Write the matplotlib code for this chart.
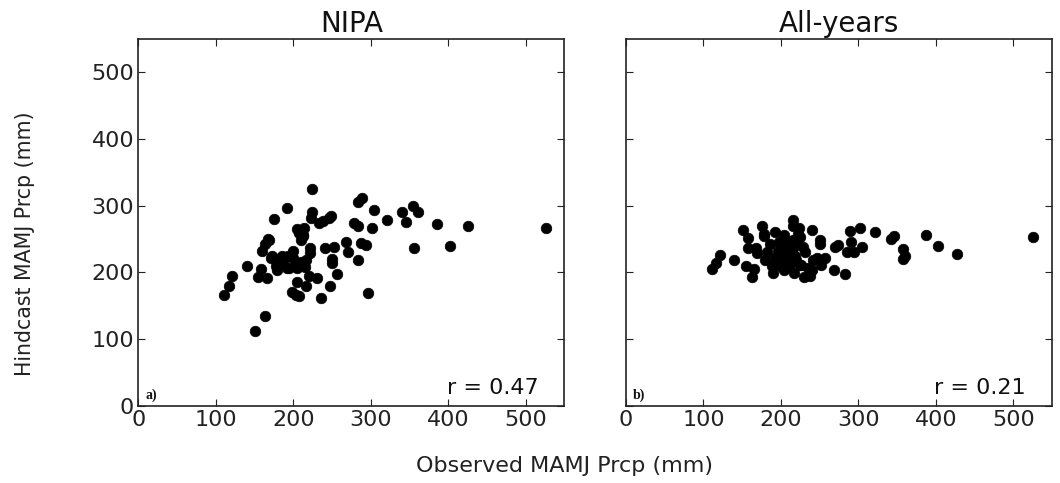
import matplotlib
matplotlib.use("Agg")
import matplotlib.pyplot as plt

# ---- data ----
nipa_obs = [110, 117, 121, 140, 151, 163, 155, 158, 166, 160, 164, 168, 171, 175, 179, 186,
            192, 182, 192, 199, 205, 208, 210, 205, 198, 203, 208, 216, 220, 224, 224, 223,
            214, 222, 222, 216, 212, 203, 233, 238, 246, 249, 284, 289, 304, 278, 283, 302,
            321, 340, 345, 355, 361, 386, 425, 526, 356, 402, 296, 268, 271, 288, 294, 283,
            257, 250, 250, 241, 252, 248, 236, 231, 212, 193, 194, 205, 210, 215, 180, 188,
            173, 169, 212, 200, 178]
nipa_hind = [166, 179, 195, 209, 112, 134, 193, 205, 191, 232, 243, 250, 222, 280, 204, 224,
             297, 212, 206, 232, 265, 259, 249, 186, 170, 166, 164, 179, 194, 325, 291, 282,
             266, 236, 229, 219, 211, 213, 274, 277, 281, 284, 306, 312, 293, 274, 270, 266,
             279, 291, 275, 299, 291, 273, 270, 266, 236, 239, 169, 246, 231, 244, 241, 219,
             198, 220, 214, 236, 238, 179, 161, 191, 254, 224, 206, 207, 215, 208, 218, 220,
             225, 249, 256, 222, 210]

all_obs = [111, 116, 121, 140, 151, 157, 157, 155, 165, 163, 169, 175, 178, 192, 182, 190,
           215, 216, 240, 231, 251, 251, 225, 235, 230, 237, 242, 247, 257, 252, 268, 283,
           270, 274, 285, 294, 290, 305, 289, 302, 322, 342, 346, 358, 360, 358, 387, 403,
           427, 526, 178, 204, 223, 210, 216, 225, 206, 215, 200, 207, 213, 168, 180, 193,
           189, 202, 210, 219, 226, 217, 204, 240, 208, 212, 220, 198, 218, 222, 196, 186,
           214, 228, 205, 200]
all_hind = [205, 214, 226, 218, 264, 251, 236, 210, 205, 193, 229, 270, 257, 261, 231, 199,
            278, 270, 264, 231, 249, 242, 211, 207, 193, 195, 219, 221, 222, 211, 203, 198,
            238, 241, 231, 231, 246, 238, 262, 267, 260, 250, 255, 235, 224, 220, 256, 240,
            227, 253, 254, 256, 266, 246, 248, 253, 236, 236, 228, 227, 229, 236, 219, 222,
            209, 214, 209, 219, 211, 199, 204, 204, 240, 232, 242, 245, 225, 258, 232, 242,
            216, 238, 220, 210]

panels = [("NIPA", "a)", "r = 0.47", nipa_obs, nipa_hind),
          ("All-years", "b)", "r = 0.21", all_obs, all_hind)]
ticks = [0, 100, 200, 300, 400, 500]

fig = plt.figure(figsize=(10.6, 4.83), dpi=100)
lefts = [0.1305, 0.5905]
for i, (title, tag, rtext, xs, ys) in enumerate(panels):
    ax = fig.add_axes([lefts[i], 0.160, 0.402, 0.759])
    ax.scatter(xs, ys, s=58, c="black", edgecolors="black", linewidths=0.5, zorder=3)
    ax.set_xlim(0, 550)
    ax.set_ylim(0, 550)
    ax.set_xticks(ticks)
    ax.set_yticks(ticks)
    ax.tick_params(direction="in", top=True, right=True, length=5, width=0.8,
                   labelsize=16, pad=3, colors="#222222")
    if i == 1:
        ax.set_yticklabels([])
    for sp in ax.spines.values():
        sp.set_linewidth(1.2)
        sp.set_color("#222222")
    ax.set_title(title, fontsize=20, pad=5, color="#111111")
    ax.text(0.939, 0.032, rtext, transform=ax.transAxes, ha="right", va="baseline",
            fontsize=16, color="#111111")
    ax.text(0.016, 0.018, tag, transform=ax.transAxes, ha="left", va="baseline",
            fontsize=10, fontweight="bold", family="Liberation Serif", color="#111111")

fig.text(0.533, 0.036, "Observed MAMJ Prcp (mm)", ha="center", va="center",
         fontsize=16, color="#222222")
fig.text(0.024, 0.495, "Hindcast MAMJ Prcp (mm)", ha="center", va="center",
         rotation=90, fontsize=14.8, color="#222222")

fig.savefig("out.png", dpi=100)
